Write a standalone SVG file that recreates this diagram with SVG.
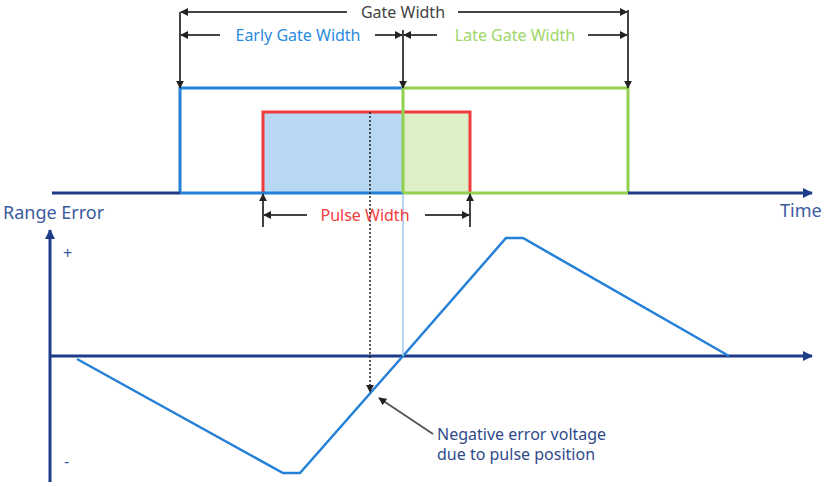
<svg xmlns="http://www.w3.org/2000/svg" width="827" height="487" viewBox="0 0 827 487">
<defs>
<marker id="ah" viewBox="0 0 10 10" refX="9" refY="5" markerWidth="8" markerHeight="8" markerUnits="userSpaceOnUse" orient="auto"><path d="M0,0 L10,5 L0,10 z" fill="#222"/></marker>
<marker id="an" viewBox="0 0 10 10" refX="9" refY="5" markerWidth="10" markerHeight="10" markerUnits="userSpaceOnUse" orient="auto"><path d="M0,0 L10,5 L0,10 z" fill="#1F3C88"/></marker>
</defs>
<style>
.dim{stroke:#444;stroke-width:2;fill:none;marker-end:url(#ah)}
.axis{stroke:#1F3C88;stroke-width:3;fill:none;marker-end:url(#an)}
.t{font-family:"Noto Sans","Open Sans",sans-serif;font-size:16px}
.big{font-size:18px}
</style>
<rect width="827" height="487" fill="#fff"/>
<g id="pulse">
<rect x="263" y="112" width="140" height="81" fill="#B7D7F2"/>
<rect x="403" y="112" width="67" height="81" fill="#DCEFC6"/>
<polyline points="263,193 263,112 470,112 470,193" fill="none" stroke="#F03C3C" stroke-width="3"/>
</g>
<g id="early-gate"><polyline points="180,193 180,88 403,88" fill="none" stroke="#2580D8" stroke-width="3"/><line x1="180" y1="193" x2="403" y2="193" stroke="#2580D8" stroke-width="3"/></g>
<g id="late-gate"><polyline points="403,193 403,88 628,88 628,193 403,193" fill="none" stroke="#92D050" stroke-width="3"/></g>
<g id="axes">
<line x1="52" y1="193" x2="180" y2="193" stroke="#1F3C88" stroke-width="3"/>
<path class="axis" d="M628,193 H812"/>
<path class="axis" d="M50,482 V230"/>
<path class="axis" d="M50,356 H812"/>
<text x="780" y="217" class="t big" fill="#3B5BA0">Time</text>
<text x="3" y="219" class="t big" fill="#3B5BA0">Range Error</text>
<text x="63" y="259" class="t" fill="#3B5BA0">+</text>
<text x="64" y="467" class="t" fill="#3B5BA0">-</text>
</g>
<g id="waveform"><polyline points="77,359 283,473 300,473 403,356 506,238 523,238 729,356" fill="none" stroke="#2580D8" stroke-width="2.5"/></g>
<g id="connectors">
<path class="dim" d="M180,12 V88"/>
<path class="dim" d="M628,10 V88"/>
<path class="dim" d="M403,30 V88"/>
<path class="dim" d="M347,12 H181"/>
<path class="dim" d="M458,12 H627"/>
<path class="dim" d="M220,35 H181"/>
<path class="dim" d="M375,35 H402"/>
<path class="dim" d="M437,35 H404"/>
<path class="dim" d="M588,35 H627"/>
<path class="dim" d="M263,227 V194"/>
<path class="dim" d="M470,227 V194"/>
<path class="dim" d="M307,215 H264"/>
<path class="dim" d="M425,215 H469"/>
<line x1="403" y1="194" x2="403" y2="356" stroke="#9ECBF0" stroke-width="1.5"/>
<path d="M370,112 V392" stroke="#222" stroke-width="1.5" stroke-dasharray="2,2" fill="none" marker-end="url(#ah)"/>
<path class="dim" d="M433,434 L379,398" style="stroke:#555"/>
</g>
<g id="labels">
<text x="403" y="18" class="t" text-anchor="middle" fill="#444">Gate Width</text>
<text x="298" y="41" class="t" text-anchor="middle" fill="#2A8BE0">Early Gate Width</text>
<text x="515" y="41" class="t" text-anchor="middle" fill="#9ED66A">Late Gate Width</text>
<text x="365" y="221" class="t" text-anchor="middle" fill="#F03C3C">Pulse Width</text>
<text x="437" y="440" class="t" fill="#2F4A8A">Negative error voltage</text>
<text x="437" y="460" class="t" fill="#2F4A8A">due to pulse position</text>
</g>
</svg>
